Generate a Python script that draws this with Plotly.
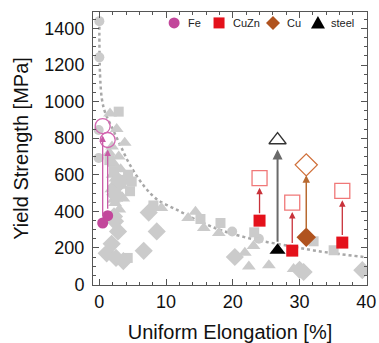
import plotly.graph_objects as go

# Reference materials (grey), grouped by marker shape
grey_circle_x = [0.0, 0.0, -0.1, -0.1, 19.9, 23.9]
grey_circle_y = [1440, 1242, 845, 692, 290, 250]

grey_tri_x = [1.6, 2.6, 3.8, 1.9, 2.9, 2.2, 3.2, 2.0, 3.4, 2.6, 2.35, 2.15, 3.0,
              1.5, 2.4, 3.6, 1.8, 9.3, 13.3, 14.4, 15.65, 17.9, 23.1, 21.8,
              22.4, 25.4, 29.1]
grey_tri_y = [935, 850, 775, 755, 700, 660, 630, 600, 540, 500, 445, 463, 410,
              720, 580, 470, 520, 418, 363, 398, 309, 282, 210, 173,
              98, 105, 84]

grey_sq_x = [2.9, 1.5, 3.7, 4.6, 2.2, 4.3, 2.8, 4.85, 4.25, 8.1, 15.15, 18.15,
             23.2, 32.1, 35.1]
grey_sq_y = [945, 680, 572, 510, 620, 600, 480, 563, 145, 432, 358, 336,
             285, 236, 187]

grey_dia_x = [2.5, 2.4, 2.35, 2.2, 2.8, 1.85, 1.1, 2.5, 3.6, 6.65, 7.4, 8.6,
              20.3, 30.0, 30.6, 39.4, 3.0]
grey_dia_y = [535, 490, 345, 372, 290, 222, 170, 145, 128, 184, 393, 290,
              150, 80, 68, 78, 560]

# Trend curve points
trend_x = [0.0, 0.1, 0.4, 0.9, 2.0, 3.15, 4.65, 6.65, 8.65, 11.8, 14.7,
           18.6, 23.6, 28.6, 32.1, 36.0, 40.0]
trend_y = [1444, 1150, 1010, 937, 850, 760, 650, 540, 465, 405, 350,
           292, 243, 210, 186, 166, 149]

# Highlighted materials: before (filled) and after (open)
fe_x = [0.5, 1.25]
fe_before = [336, 376]
fe_after = [866, 790]

cuzn_x = [24.0, 28.9, 36.4]
cuzn_before = [349, 185, 229]
cuzn_after = [581, 448, 512]

cu_x = [31.0]
cu_before = [258]
cu_after = [654]

steel_x = [26.7]
steel_before = [187]
steel_after = [790]

GREY = "#CBCBCB"
FE = "#C2479B"
CUZN = "#E4111B"
CU = "#B0531F"
STEEL = "#000000"

fig = go.Figure()

fig.add_trace(go.Scatter(x=trend_x, y=trend_y, mode="lines",
                         line=dict(color="#A8A8A8", width=2.5, dash="dot", shape="spline",
                                   smoothing=1.0),
                         showlegend=False, hoverinfo="skip"))

for xs, ys, sym, sz in [(grey_circle_x, grey_circle_y, "circle", 10),
                        (grey_tri_x, grey_tri_y, "triangle-up", 12),
                        (grey_sq_x, grey_sq_y, "square", 10),
                        (grey_dia_x, grey_dia_y, "diamond", 14)]:
    fig.add_trace(go.Scatter(x=xs, y=ys, mode="markers",
                             marker=dict(symbol=sym, size=sz, color=GREY),
                             showlegend=False))

groups = [
    ("Fe", fe_x, fe_before, fe_after, "circle", FE, "#D366B0", "#C85AA6", 11, 15, 1.3),
    ("CuZn", cuzn_x, cuzn_before, cuzn_after, "square", CUZN, "#F07878", "#C8323A", 12, 15, 1.3),
    ("Cu", cu_x, cu_before, cu_after, "diamond", CU, "#D0703A", "#B86A30", 15, 17, 1.5),
    ("steel", steel_x, steel_before, steel_after, "triangle-up", STEEL, "#333333", "#6A6A6A", 14, 15, 2.0),
]

for name, xs, yb, ya, sym, col, opencol, arrowcol, sz, osz, aw in groups:
    fig.add_trace(go.Scatter(x=xs, y=ya, mode="markers",
                             marker=dict(symbol=sym + "-open", size=osz, color=opencol,
                                         line=dict(width=1.3, color=opencol)),
                             showlegend=False))
    for x, b, a in zip(xs, yb, ya):
        fig.add_annotation(x=x, y=a, ax=x, ay=b, xref="x", yref="y", axref="x", ayref="y",
                           showarrow=True, arrowhead=2, arrowsize=1, arrowwidth=aw,
                           arrowcolor=arrowcol, standoff=osz / 2 + 2,
                           startstandoff=sz / 2, text="")
    fig.add_trace(go.Scatter(x=xs, y=yb, mode="markers", name=name, showlegend=False,
                             marker=dict(symbol=sym, size=sz, color=col)))

# Compact horizontal key along the top of the plot area (symbols sized in pixels)
key_shapes = {
    "circle": dict(type="circle", x0=-5.5, x1=5.5, y0=-5.5, y1=5.5),
    "square": dict(type="rect", x0=-5.5, x1=5.5, y0=-5.5, y1=5.5),
    "diamond": dict(type="path", path="M0,7 L7,0 L0,-7 L-7,0 Z"),
    "triangle-up": dict(type="path", path="M-7,-5.5 L7,-5.5 L0,7 Z"),
}
key_pos = [0.296, 0.46, 0.657, 0.821]
key_y = 0.96
for (name, _, _, _, sym, col, *_rest), kx in zip(groups, key_pos):
    fig.add_shape(xref="paper", yref="paper", xsizemode="pixel", ysizemode="pixel",
                  xanchor=kx, yanchor=key_y, fillcolor=col, line=dict(width=0),
                  **key_shapes[sym])
    fig.add_annotation(x=kx + 0.042, y=key_y, xref="paper", yref="paper", text=name,
                       showarrow=False, xanchor="left", yanchor="middle",
                       font=dict(size=11, color="#222222"))

axis_common = dict(showline=True, linecolor="#555555", linewidth=1, mirror="ticks",
                   ticks="inside", ticklen=6, tickcolor="#555555", showgrid=False,
                   zeroline=False, automargin=False,
                   tickfont=dict(size=18, color="#111111"),
                   title_font=dict(size=20, color="#111111"))

fig.update_xaxes(range=[-0.95, 40.1], tickvals=[0, 10, 20, 30, 40],
                 minor=dict(dtick=2, ticks="inside", ticklen=3, tickcolor="#555555"),
                 title_text="Uniform Elongation [%]", title_standoff=14, **axis_common)
fig.update_yaxes(range=[-3, 1490], tickvals=[0, 200, 400, 600, 800, 1000, 1200, 1400],
                 minor=dict(dtick=50, ticks="inside", ticklen=3, tickcolor="#555555"),
                 title_text="Yield Strength [MPa]", title_standoff=10,
                 ticklabelstandoff=4, **axis_common)

fig.update_layout(
    width=379, height=343,
    margin=dict(l=93, r=12, t=12, b=58),
    plot_bgcolor="white", paper_bgcolor="white",
    font=dict(family="Liberation Sans, Arial, sans-serif"),
    showlegend=False,
)

fig.write_html("out.html")
